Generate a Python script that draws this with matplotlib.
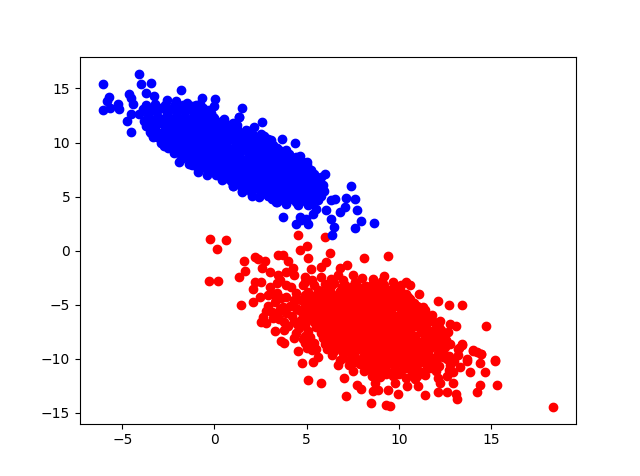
import matplotlib
matplotlib.use("Agg")
import matplotlib.pyplot as plt

red_edge = [
(-0.25,1.12),(0.61,1.03),(0.13,0.2),(-0.31,-2.84),(0.2,-2.84),(4.53,1.49),(5.98,1.31),(5.02,0.48),(4.64,0.11),
(5.07,-0.72),(6.27,-0.17),(1.58,-0.97),(2.21,-0.6),(2.35,-0.81),(2.73,-0.97),(3.44,-0.41),(3.71,-0.41),(3.98,-0.94),
(1.67,-1.89),(1.32,-2.47),(2.57,-1.64),(2.99,-2.01),(1.43,-5.05),(2.08,-4.78),(2.08,-3.58),(2.21,-2.93),(2.54,-2.93),
(2.45,-4.26),(2.9,-4.1),(2.93,-5.12),(3.53,-5.39),(2.63,-6.1),(2.54,-6.56),(2.81,-6.71),(3.17,-6.25),(3.8,-6.56),
(3.28,-7.42),(3.8,-7.33),(4.58,-7.17),(4.31,-8.04),(3.63,-8.34),(3.77,-8.53),(4.89,-8.55),(4.53,-9.26),(6.83,-1.64),
(7.52,-2.26),(6.07,-1.03),(5.8,-1.49),(5.25,-1.73),(4.89,-2.41),(4.26,-1.64),(3.9,-1.95),(4.29,-2.26),(3.44,-2.26),
(3.53,-2.72),(4.17,-3.34),(2.99,-3.34),(3.4,-3.9),(3.9,-4.3),(4.4,-3.9),(4.8,-3.2),(4.7,-4.6),(3.3,-4.7),(4.1,-5.1),
(4.6,-5.5),(3.1,-5.7),(4.2,-6.0),(4.7,-6.4),(5.1,-7.4),(4.9,-7.9),(5.4,-8.5),(5.3,-9.2),(5.6,-9.8),(8.1,-0.7),(9.4,-0.5),
(8.6,-2.6),(9.2,-2.3),(7.2,-1.3),(9.7,-2.9),(10.38,-2.93),(10.6,-3.18),(10.14,-3.18),(11.1,-4.0),(12.14,-4.68),
(12.72,-5.0),(13.44,-5.05),(14.74,-6.99),(11.29,-5.18),(11.81,-5.94),(12.26,-6.47),(12.77,-6.77),(13.08,-6.99),
(12.68,-7.48),(13.44,-8.62),(13.26,-9.01),(14.0,-9.17),(14.22,-9.33),(14.44,-9.57),(13.71,-10.03),(15.23,-10.09),
(12.41,-9.17),(12.55,-8.25),(18.39,-14.45),(15.34,-12.4),(15.23,-10.22),(14.69,-11.23),(14.42,-10.4),(13.88,-11.2),
(14.42,-12.46),(14.26,-13.07),(13.68,-10.16),(13.17,-13.72),(13.1,-13.26),(12.59,-13.1),(12.14,-13.04),(11.43,-13.35),
(11.05,-12.49),(9.96,-13.23),(9.55,-14.36),(9.33,-14.3),(8.5,-14.09),(7.14,-13.44),(7.97,-12.8),(7.74,-12.4),(7.05,-11.78),
(5.78,-12.24),(5.07,-11.96),(5.34,-10.28),(4.77,-10.4),(8.6,-13.01),(8.88,-12.86),(9.39,-12.86),(10.42,-12.55),(12.95,-12.24),
(12.23,-12.24),(13.44,-8.71),(13.23,-9.08),(14.04,-9.23),(14.46,-9.54),(6.7,-10.55),(7.52,-11.08),(8.52,-11.63),(11.41,-11.47),
(12.95,-11.17),(13.32,-10.71),(12.1,-11.8),(10.9,-11.9),(9.8,-12.2),(8.7,-12.2),(12.6,-11.6),(13.0,-10.2),(13.2,-9.6),
]

red_core = [
(6.3,-2.6),(7.0,-2.7),(7.6,-2.9),
(6.0,-3.1),(6.5,-3.0),(7.1,-3.2),(7.7,-3.1),(8.2,-3.3),(8.6,-3.0),
(5.6,-3.6),(6.2,-3.5),(6.8,-3.7),(7.3,-3.6),(7.9,-3.5),(8.4,-3.7),(9.0,-3.5),(9.5,-3.6),
(5.5,-4.1),(6.0,-4.0),(6.5,-4.2),(7.0,-4.1),(7.6,-4.0),(8.1,-4.2),(8.7,-4.1),(9.2,-4.0),(9.8,-4.2),(10.4,-4.0),
(5.4,-4.6),(5.9,-4.5),(6.4,-4.7),(6.9,-4.6),(7.4,-4.5),(7.9,-4.7),(8.4,-4.6),(9.0,-4.5),(9.5,-4.7),(10.1,-4.6),(10.6,-4.5),
(5.2,-5.1),(5.7,-5.0),(6.2,-5.2),(6.7,-5.1),(7.2,-5.0),(7.8,-5.2),(8.3,-5.1),(8.8,-5.0),(9.3,-5.2),(9.8,-5.1),(10.4,-5.0),(11.0,-5.1),
(5.0,-5.6),(5.5,-5.5),(6.0,-5.7),(6.5,-5.6),(7.0,-5.5),(7.5,-5.7),(8.0,-5.6),(8.6,-5.5),(9.1,-5.7),(9.6,-5.6),(10.2,-5.5),(10.8,-5.7),(11.4,-5.5),
(5.0,-6.1),(5.6,-6.0),(6.1,-6.2),(6.6,-6.1),(7.2,-6.0),(7.7,-6.2),(8.2,-6.1),(8.8,-6.0),(9.3,-6.2),(9.8,-6.1),(10.4,-6.0),(11.0,-6.2),(11.6,-6.1),
(5.4,-6.6),(5.9,-6.5),(6.4,-6.7),(6.9,-6.6),(7.4,-6.5),(8.0,-6.7),(8.5,-6.6),(9.0,-6.5),(9.5,-6.7),(10.1,-6.6),(10.6,-6.5),(11.2,-6.7),(11.9,-6.6),
(5.5,-7.1),(6.1,-7.0),(6.6,-7.2),(7.1,-7.1),(7.7,-7.0),(8.2,-7.2),(8.7,-7.1),(9.3,-7.0),(9.8,-7.2),(10.3,-7.1),(10.9,-7.0),(11.5,-7.2),(12.2,-7.1),
(5.8,-7.6),(6.3,-7.5),(6.9,-7.7),(7.4,-7.6),(7.9,-7.5),(8.5,-7.7),(9.0,-7.6),(9.5,-7.5),(10.1,-7.7),(10.6,-7.6),(11.2,-7.5),(11.8,-7.7),(12.4,-7.6),
(5.9,-8.1),(6.5,-8.0),(7.0,-8.2),(7.6,-8.1),(8.1,-8.0),(8.7,-8.2),(9.2,-8.1),(9.8,-8.0),(10.3,-8.2),(10.9,-8.1),(11.4,-8.0),(12.0,-8.2),
(6.0,-8.6),(6.6,-8.5),(7.1,-8.7),(7.7,-8.6),(8.2,-8.5),(8.8,-8.7),(9.3,-8.6),(9.9,-8.5),(10.4,-8.7),(11.0,-8.6),(11.6,-8.5),(12.2,-8.7),(12.8,-8.6),
(6.1,-9.1),(6.7,-9.0),(7.3,-9.2),(7.8,-9.1),(8.4,-9.0),(8.9,-9.2),(9.5,-9.1),(10.0,-9.0),(10.6,-9.2),(11.1,-9.1),(11.7,-9.0),
(6.4,-9.6),(7.0,-9.5),(7.5,-9.7),(8.1,-9.6),(8.6,-9.5),(9.2,-9.7),(9.7,-9.6),(10.3,-9.5),(10.9,-9.7),(11.5,-9.6),(12.1,-9.5),(12.7,-9.7),
(6.8,-10.1),(7.4,-10.0),(7.9,-10.2),(8.5,-10.1),(9.0,-10.0),(9.6,-10.2),(10.2,-10.1),(10.8,-10.0),(11.4,-10.2),(12.0,-10.1),(12.6,-10.0),
(7.3,-10.6),(7.9,-10.5),(8.5,-10.7),(9.1,-10.6),(9.7,-10.5),(10.3,-10.7),(10.9,-10.6),(11.5,-10.5),(12.2,-10.7),(12.8,-10.6),
(8.1,-11.1),(8.8,-11.0),(9.4,-11.2),(10.1,-11.1),(10.7,-11.0),(11.3,-11.2),(12.0,-11.1),(12.7,-11.0),
(9.0,-11.7),(9.7,-11.6),(10.4,-11.8),(11.0,-11.6),
]

red_fill = [
(6.3,-3.3),(6.9,-3.4),(7.5,-3.3),(8.1,-3.4),(8.7,-3.3),(9.2,-3.2),
(5.8,-3.8),(6.3,-3.9),(6.8,-3.8),(7.4,-3.9),(7.9,-3.8),(8.5,-3.9),(9.0,-3.8),(9.6,-3.9),(10.1,-3.8),
(5.7,-4.3),(6.2,-4.4),(6.7,-4.3),(7.3,-4.4),(7.8,-4.3),(8.3,-4.4),(8.9,-4.3),(9.4,-4.4),(10.0,-4.3),(10.5,-4.3),
(5.5,-4.8),(6.0,-4.9),(6.5,-4.8),(7.1,-4.9),(7.6,-4.8),(8.1,-4.9),(8.6,-4.8),(9.2,-4.9),(9.7,-4.8),(10.3,-4.9),(10.8,-4.8),
(5.4,-5.3),(5.9,-5.4),(6.4,-5.3),(6.9,-5.4),(7.5,-5.3),(8.0,-5.4),(8.5,-5.3),(9.0,-5.4),(9.6,-5.3),(10.1,-5.4),(10.7,-5.3),(11.2,-5.4),
(5.3,-5.8),(5.8,-5.9),(6.3,-5.8),(6.9,-5.9),(7.4,-5.8),(7.9,-5.9),(8.4,-5.8),(9.0,-5.9),(9.5,-5.8),(10.0,-5.9),(10.6,-5.8),(11.2,-5.9),
(5.2,-6.3),(5.7,-6.4),(6.3,-6.3),(6.8,-6.4),(7.3,-6.3),(7.9,-6.4),(8.4,-6.3),(8.9,-6.4),(9.5,-6.3),(10.0,-6.4),(10.6,-6.3),(11.2,-6.4),(11.7,-6.3),
(5.7,-6.8),(6.2,-6.9),(6.7,-6.8),(7.2,-6.9),(7.8,-6.8),(8.3,-6.9),(8.8,-6.8),(9.3,-6.9),(9.9,-6.8),(10.4,-6.9),(10.9,-6.8),(11.5,-6.9),(12.0,-6.8),
(5.8,-7.3),(6.4,-7.4),(6.9,-7.3),(7.4,-7.4),(8.0,-7.3),(8.5,-7.4),(9.0,-7.3),(9.6,-7.4),(10.1,-7.3),(10.6,-7.4),(11.2,-7.3),(11.8,-7.4),(12.3,-7.3),
(6.1,-7.8),(6.6,-7.9),(7.2,-7.8),(7.7,-7.9),(8.2,-7.8),(8.8,-7.9),(9.3,-7.8),(9.8,-7.9),(10.4,-7.8),(10.9,-7.9),(11.5,-7.8),(12.1,-7.9),
(6.2,-8.3),(6.8,-8.4),(7.3,-8.3),(7.9,-8.4),(8.4,-8.3),(9.0,-8.4),(9.5,-8.3),(10.1,-8.4),(10.6,-8.3),(11.2,-8.4),(11.7,-8.3),(12.3,-8.4),
(6.3,-8.8),(6.9,-8.9),(7.4,-8.8),(8.0,-8.9),(8.5,-8.8),(9.1,-8.9),(9.6,-8.8),(10.2,-8.9),(10.7,-8.8),(11.3,-8.9),(11.9,-8.8),(12.5,-8.9),
(6.5,-9.3),(7.1,-9.4),(7.6,-9.3),(8.2,-9.4),(8.7,-9.3),(9.3,-9.4),(9.8,-9.3),(10.4,-9.4),(11.0,-9.3),(11.6,-9.4),(12.2,-9.3),
(7.0,-9.9),(7.6,-9.8),(8.2,-9.9),(8.8,-9.8),(9.4,-9.9),(10.0,-9.8),(10.6,-9.9),(11.2,-9.8),(11.8,-9.9),(12.4,-9.8),
(7.6,-10.3),(8.2,-10.4),(8.8,-10.3),(9.4,-10.4),(10.0,-10.3),(10.6,-10.4),(11.2,-10.3),(11.8,-10.4),
(8.4,-10.9),(9.1,-10.8),(9.8,-10.9),(10.4,-10.8),(11.0,-10.9),(11.7,-10.8),
(9.3,-11.4),(10.0,-11.4),(10.7,-11.3),
(3.4,-3.0),(3.9,-3.2),(3.1,-4.0),(3.6,-4.4),(4.3,-4.6),(2.8,-5.6),(3.7,-5.2),(3.4,-5.9),(3.9,-5.8),(4.4,-5.3),(3.5,-6.3),
(4.3,-6.5),(4.0,-7.0),(4.5,-6.8),(4.9,-6.9),(4.4,-7.6),(4.8,-8.2),(5.2,-8.0),(5.0,-9.0),(5.5,-9.1),(4.9,-2.9),(5.3,-2.7),
(5.4,-3.2),(5.1,-3.8),(4.9,-4.1),(5.1,-4.5),(4.9,-5.1),(4.8,-5.9),(5.8,-2.4),(6.7,-2.2),(8.0,-2.5),(9.1,-2.8),(9.9,-3.4),
]

blue_edge = [
(-4.11,16.36),(-6.07,15.4),(-3.97,15.37),(-3.46,15.5),(-1.83,14.85),(-4.66,14.5),(-5.74,14.2),(-5.83,13.84),(-5.25,13.6),
(-5.2,13.07),(-6.07,13.0),(-5.67,13.2),(-4.53,14.08),(-4.44,13.53),(-4.77,12.0),(-4.53,12.67),(-4.55,11.0),(-3.71,14.6),
(-0.69,14.15),(0.02,14.0),(0.0,13.38),(-0.31,12.98),(1.48,13.2),(1.32,12.37),(-3.32,10.52),(-3.42,10.9),(-2.72,9.7),
(-1.9,8.2),(-3.3,14.3),(-2.6,13.9),(-2.1,13.8),(-1.5,13.7),(-1.0,13.5),(-0.6,13.2),(2.57,11.94),(2.12,11.47),(1.32,12.4),
(2.68,10.65),(3.68,10.34),(4.38,9.97),(3.08,10.25),(4.04,8.9),(4.66,8.74),(5.02,8.19),(5.25,7.48),(6.01,7.11),(5.8,6.8),
(5.89,6.04),(5.94,5.48),(7.41,5.94),(7.16,4.9),(7.63,4.81),(6.56,4.75),(6.34,4.65),(7.1,4.04),(6.83,3.61),(7.74,3.73),
(6.05,3.73),(7.95,2.78),(8.66,2.6),(7.63,2.07),(6.32,2.9),(6.48,2.23),(6.38,1.49),(3.71,3.15),(4.62,3.12),(4.44,2.5),
(5.07,2.5),(4.7,2.8),(4.98,2.97),(5.49,3.89),(5.34,3.43),(1.48,5.42),(2.03,5.02),(2.48,5.11),(3.35,4.5),(3.9,4.35),
(4.53,4.19),(5.07,4.26),(1.0,5.94),(-1.2,7.9),(-0.9,7.3),(-0.4,7.0),(0.1,7.0),(0.6,6.8),
]

blue_core = [
(-3.9,13.1),(-3.4,13.0),(-2.9,13.2),(-2.4,13.1),(-1.9,13.0),(-1.4,13.2),(-0.9,13.0),
(-4.1,12.6),(-3.6,12.5),(-3.1,12.4),(-2.6,12.6),(-2.1,12.5),(-1.6,12.4),(-1.1,12.6),(-0.6,12.5),(-0.1,12.4),
(-3.8,12.0),(-3.3,11.9),(-2.8,12.1),(-2.3,12.0),(-1.8,11.9),(-1.3,12.1),(-0.8,12.0),(-0.3,11.9),(0.4,12.0),
(-3.7,11.5),(-3.2,11.4),(-2.7,11.6),(-2.2,11.5),(-1.7,11.4),(-1.2,11.6),(-0.7,11.5),(-0.2,11.4),(0.3,11.6),(0.8,11.5),(1.2,11.6),
(-3.5,11.0),(-3.0,10.9),(-2.5,11.1),(-2.0,11.0),(-1.5,10.9),(-1.0,11.1),(-0.5,11.0),(0.0,10.9),(0.5,11.1),(1.0,11.0),(1.4,10.9),(1.8,11.1),
(-3.1,10.5),(-2.6,10.4),(-2.1,10.6),(-1.6,10.5),(-1.1,10.4),(-0.6,10.6),(-0.1,10.5),(0.4,10.4),(0.9,10.6),(1.4,10.5),(1.9,10.4),(2.5,10.5),
(-2.9,10.0),(-2.4,9.9),(-1.9,10.1),(-1.4,10.0),(-0.9,9.9),(-0.4,10.1),(0.1,10.0),(0.6,9.9),(1.1,10.1),(1.6,10.0),(2.1,9.9),(2.6,10.1),(3.0,9.9),
(-2.5,9.5),(-2.0,9.4),(-1.5,9.6),(-1.0,9.5),(-0.5,9.4),(0.0,9.6),(0.5,9.5),(1.0,9.4),(1.5,9.6),(2.0,9.5),(2.5,9.4),(3.0,9.6),(3.4,9.5),
(-2.2,9.0),(-1.7,8.9),(-1.2,9.1),(-0.7,9.0),(-0.2,8.9),(0.3,9.1),(0.8,9.0),(1.3,8.9),(1.8,9.1),(2.3,9.0),(2.8,8.9),(3.3,9.1),(3.8,9.0),
(-1.8,8.5),(-1.3,8.4),(-0.8,8.6),(-0.3,8.5),(0.2,8.4),(0.7,8.6),(1.2,8.5),(1.7,8.4),(2.2,8.6),(2.7,8.5),(3.2,8.4),(3.7,8.6),(4.2,8.5),(4.6,8.3),
(-1.4,8.0),(-0.9,7.9),(-0.4,8.1),(0.1,8.0),(0.6,7.9),(1.1,8.1),(1.6,8.0),(2.1,7.9),(2.6,8.1),(3.1,8.0),(3.6,7.9),(4.1,8.1),(4.6,8.0),(5.0,7.9),
(-0.9,7.6),(-0.4,7.5),(0.1,7.6),(0.6,7.4),(1.1,7.5),(1.6,7.6),(2.1,7.4),(2.6,7.5),(3.1,7.6),(3.6,7.4),(4.1,7.5),(4.6,7.6),(5.1,7.3),
(0.2,7.0),(0.7,6.9),(1.2,7.1),(1.7,7.0),(2.2,6.9),(2.7,7.1),(3.2,7.0),(3.7,6.9),(4.2,7.1),(4.7,7.0),(5.3,6.9),
(0.4,6.5),(0.9,6.4),(1.4,6.6),(1.9,6.5),(2.4,6.4),(2.9,6.6),(3.4,6.5),(3.9,6.4),(4.4,6.6),(4.9,6.5),(5.5,6.4),
(1.0,6.0),(1.5,5.9),(2.0,6.1),(2.5,6.0),(3.0,5.9),(3.5,6.1),(4.0,6.0),(4.5,5.9),(5.0,6.1),(5.5,5.9),
(1.5,5.5),(2.0,5.4),(2.5,5.6),(3.0,5.5),(3.5,5.4),(4.0,5.6),(4.5,5.5),(5.0,5.4),(5.5,5.6),
(2.4,5.0),(2.9,5.1),(3.4,4.9),(3.9,5.0),(4.4,5.1),(4.9,4.9),(5.4,5.0),(5.8,5.1),
(3.4,4.5),(3.9,4.6),(4.4,4.5),(4.9,4.6),(5.3,4.5),
]

blue_fill = [
(-3.7,13.5),(-3.2,13.6),(-2.7,13.5),(-2.2,13.4),(-1.7,13.5),(-1.2,13.4),(-0.8,13.6),
(-3.6,12.8),(-3.1,12.9),(-2.6,12.8),(-2.1,12.9),(-1.6,12.8),(-1.1,12.9),(-0.6,12.8),(-0.2,12.7),
(-3.5,12.2),(-3.0,12.3),(-2.5,12.2),(-2.0,12.3),(-1.5,12.2),(-1.0,12.3),(-0.5,12.2),(0.0,12.3),(0.5,12.2),
(-3.4,11.7),(-2.9,11.8),(-2.4,11.7),(-1.9,11.8),(-1.4,11.7),(-0.9,11.8),(-0.4,11.7),(0.1,11.8),(0.6,11.7),(1.0,11.8),
(-3.2,11.2),(-2.7,11.3),(-2.2,11.2),(-1.7,11.3),(-1.2,11.2),(-0.7,11.3),(-0.2,11.2),(0.3,11.3),(0.8,11.2),(1.2,11.3),(1.7,11.2),
(-2.9,10.7),(-2.4,10.8),(-1.9,10.7),(-1.4,10.8),(-0.9,10.7),(-0.4,10.8),(0.1,10.7),(0.6,10.8),(1.1,10.7),(1.6,10.8),(2.1,10.7),(2.5,10.8),
(-2.6,10.2),(-2.1,10.3),(-1.6,10.2),(-1.1,10.3),(-0.6,10.2),(-0.1,10.3),(0.4,10.2),(0.9,10.3),(1.4,10.2),(1.9,10.3),(2.4,10.2),(2.9,10.3),
(-2.3,9.7),(-1.8,9.8),(-1.3,9.7),(-0.8,9.8),(-0.3,9.7),(0.2,9.8),(0.7,9.7),(1.2,9.8),(1.7,9.7),(2.2,9.8),(2.7,9.7),(3.2,9.8),
(-2.0,9.2),(-1.5,9.3),(-1.0,9.2),(-0.5,9.3),(0.0,9.2),(0.5,9.3),(1.0,9.2),(1.5,9.3),(2.0,9.2),(2.5,9.3),(3.0,9.2),(3.5,9.3),(3.9,9.3),
(-1.6,8.7),(-1.1,8.8),(-0.6,8.7),(-0.1,8.8),(0.4,8.7),(0.9,8.8),(1.4,8.7),(1.9,8.8),(2.4,8.7),(2.9,8.8),(3.4,8.7),(3.9,8.8),(4.4,8.7),
(-1.2,8.2),(-0.7,8.3),(-0.2,8.2),(0.3,8.3),(0.8,8.2),(1.3,8.3),(1.8,8.2),(2.3,8.3),(2.8,8.2),(3.3,8.3),(3.8,8.2),(4.3,8.3),(4.8,8.2),
(-0.7,7.8),(-0.2,7.8),(0.3,7.7),(0.8,7.8),(1.3,7.7),(1.8,7.8),(2.3,7.7),(2.8,7.8),(3.3,7.7),(3.8,7.8),(4.3,7.7),(4.8,7.8),
(0.0,7.3),(0.4,7.2),(0.9,7.3),(1.4,7.2),(1.9,7.3),(2.4,7.2),(2.9,7.3),(3.4,7.2),(3.9,7.3),(4.4,7.2),(4.9,7.3),(5.4,7.1),
(0.6,6.7),(1.1,6.8),(1.6,6.7),(2.1,6.8),(2.6,6.7),(3.1,6.8),(3.6,6.7),(4.1,6.8),(4.6,6.7),(5.1,6.8),(5.6,6.6),
(1.2,6.2),(1.7,6.3),(2.2,6.2),(2.7,6.3),(3.2,6.2),(3.7,6.3),(4.2,6.2),(4.7,6.3),(5.2,6.2),(5.7,6.2),
(1.7,5.7),(2.2,5.8),(2.7,5.7),(3.2,5.8),(3.7,5.7),(4.2,5.8),(4.7,5.7),(5.2,5.8),(5.7,5.7),
(2.7,5.3),(3.2,5.3),(3.7,5.2),(4.2,5.3),(4.7,5.2),(5.2,5.3),(5.7,5.3),
(3.1,4.8),(3.7,4.7),(4.2,4.8),(4.7,4.8),(5.2,4.8),(5.6,4.7),
]

red_points = red_edge + red_core + red_fill
blue_points = blue_edge + blue_core + blue_fill
red_x = [p[0] for p in red_points]
red_y = [p[1] for p in red_points]
blue_x = [p[0] for p in blue_points]
blue_y = [p[1] for p in blue_points]

fig, ax = plt.subplots(figsize=(6.4, 4.76), dpi=100)
ax.scatter(red_x, red_y, c="red")
ax.scatter(blue_x, blue_y, c="blue")
fig.savefig("out.png", dpi=100)
